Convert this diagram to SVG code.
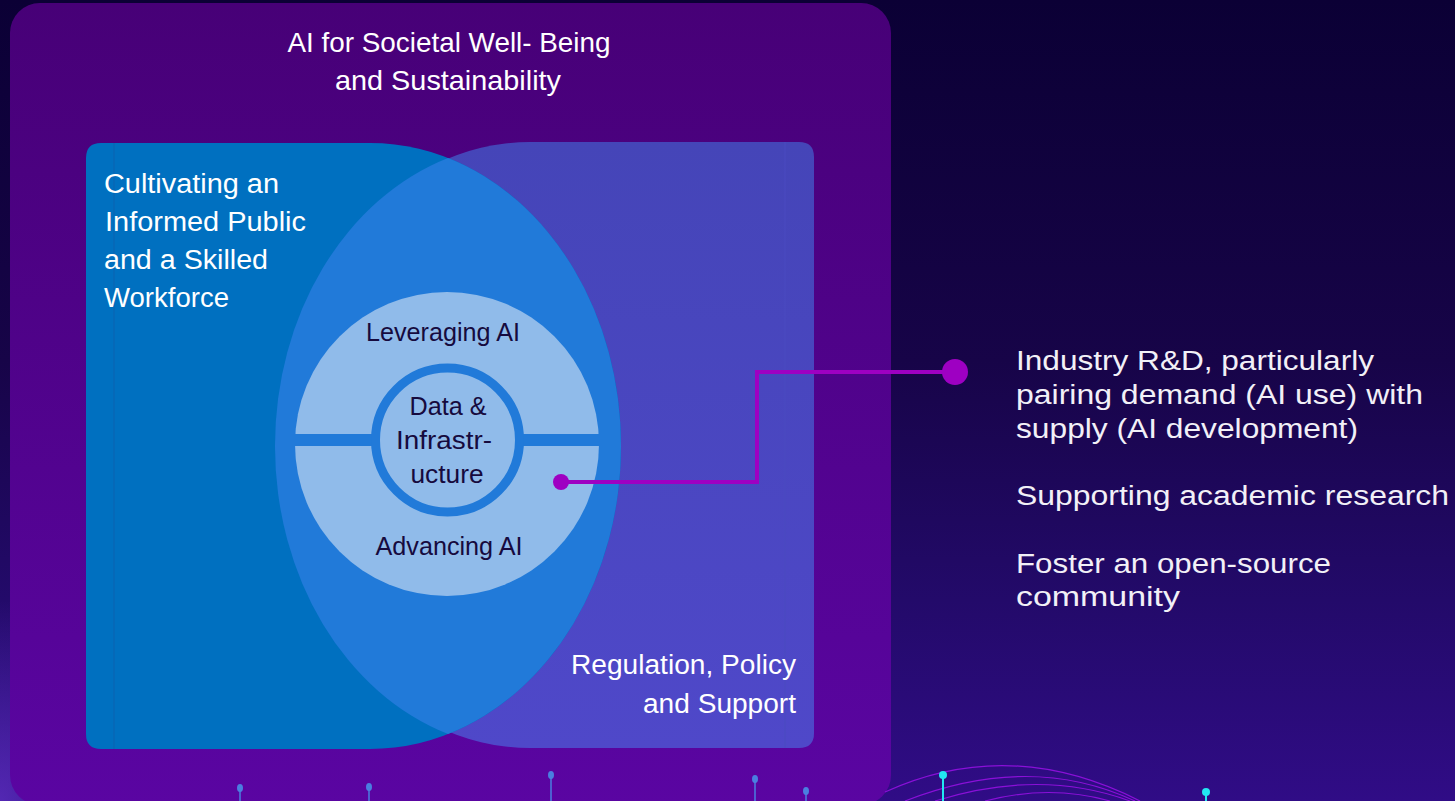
<svg xmlns="http://www.w3.org/2000/svg" width="1455" height="801" viewBox="0 0 1455 801">
  <defs>
    <linearGradient id="bg" x1="0" y1="0" x2="0" y2="1">
      <stop offset="0" stop-color="#0b0035"/>
      <stop offset="0.45" stop-color="#170448"/>
      <stop offset="0.75" stop-color="#230a6a"/>
      <stop offset="1" stop-color="#300c86"/>
    </linearGradient>
    <linearGradient id="panel" x1="0" y1="0" x2="0" y2="1">
      <stop offset="0" stop-color="#470077"/>
      <stop offset="1" stop-color="#5a05a2"/>
    </linearGradient>
    <linearGradient id="rightShape" x1="0" y1="0" x2="0" y2="1">
      <stop offset="0" stop-color="#4545b8"/>
      <stop offset="1" stop-color="#4f48c9"/>
    </linearGradient>
    <radialGradient id="glow" cx="0" cy="1" r="1">
      <stop offset="0" stop-color="#6a3ad0" stop-opacity="0.6"/>
      <stop offset="1" stop-color="#6a3ad0" stop-opacity="0"/>
    </radialGradient>
    <style>
      .t { font-family: "Liberation Sans", "Noto Sans", Arial, sans-serif; fill: #ffffff; }
      .dark { font-family: "Liberation Sans", "Noto Sans", Arial, sans-serif; fill: #160a3e; }
      .rt { font-family: "Liberation Sans", "Noto Sans", Arial, sans-serif; fill: #f2f0f7; font-size: 27px; }
      .conn { stroke: #9e00c2; stroke-width: 4; fill: none; }
      .pinB { stroke: #4a7fe0; stroke-width: 1.5; }
      .pinC { stroke: #22e6f2; stroke-width: 2; }
      .arc { stroke: #8a10d8; stroke-width: 1.2; fill: none; }
    </style>
  </defs>

  <rect x="0" y="0" width="1455" height="801" fill="url(#bg)"/>
  <rect x="0" y="600" width="120" height="201" fill="url(#glow)"/>

  <g id="panel-societal">
    <rect x="10" y="3" width="881" height="802" rx="30" ry="30" fill="url(#panel)"/>
    <text class="t" font-size="28" text-anchor="middle" x="449" y="52" textLength="323" lengthAdjust="spacingAndGlyphs">AI for Societal Well- Being</text>
    <text class="t" font-size="28" text-anchor="middle" x="448" y="90" textLength="226" lengthAdjust="spacingAndGlyphs">and Sustainability</text>
  </g>

  <g id="shape-regulation">
    <path d="M530 142 L799 142 Q814 142 814 157 L814 733 Q814 748 799 748 L530 748 A251 303 0 0 1 530 142 Z" fill="url(#rightShape)"/>
    <line x1="785" y1="142" x2="785" y2="748" stroke="#4a4ac0" stroke-width="1"/>
    <text class="t" font-size="27" text-anchor="end" x="796" y="674" textLength="225" lengthAdjust="spacingAndGlyphs">Regulation, Policy</text>
    <text class="t" font-size="27" text-anchor="end" x="796" y="713" textLength="153" lengthAdjust="spacingAndGlyphs">and Support</text>
  </g>

  <g id="shape-cultivating">
    <path d="M101 143 L370 143 A251 303 0 0 1 370 749 L101 749 Q86 749 86 734 L86 158 Q86 143 101 143 Z" fill="#0070c0"/>
    <line x1="114" y1="143" x2="114" y2="749" stroke="#0a62b0" stroke-width="1"/>
    <text class="t" font-size="27" x="104" y="193" textLength="175" lengthAdjust="spacingAndGlyphs">Cultivating an</text>
    <text class="t" font-size="27" x="105" y="231" textLength="201" lengthAdjust="spacingAndGlyphs">Informed Public</text>
    <text class="t" font-size="27" x="104" y="269" textLength="164" lengthAdjust="spacingAndGlyphs">and a Skilled</text>
    <text class="t" font-size="27" x="104" y="307" textLength="125" lengthAdjust="spacingAndGlyphs">Workforce</text>
  </g>

  <g id="overlap">
    <path d="M448 158 A251 303 0 0 1 448 734 A251 303 0 0 1 448 158 Z" fill="#217ad9"/>
  </g>

  <g id="node-ai">
    <circle cx="447" cy="444" r="152" fill="#90bbea"/>
    <rect x="295" y="434" width="305" height="12" fill="#217ad9"/>
    <text class="dark" font-size="25" text-anchor="middle" x="443" y="341" textLength="154" lengthAdjust="spacingAndGlyphs">Leveraging AI</text>
    <text class="dark" font-size="25" text-anchor="middle" x="449" y="555" textLength="147" lengthAdjust="spacingAndGlyphs">Advancing AI</text>
  </g>

  <g id="node-data">
    <circle cx="447.5" cy="440" r="72" fill="#90bbea" stroke="#217ad9" stroke-width="9"/>
    <text class="dark" font-size="25" text-anchor="middle" x="448" y="415" textLength="77" lengthAdjust="spacingAndGlyphs">Data &amp;</text>
    <text class="dark" font-size="25" text-anchor="middle" x="444" y="449" textLength="96" lengthAdjust="spacingAndGlyphs">Infrastr-</text>
    <text class="dark" font-size="25" text-anchor="middle" x="447" y="483" textLength="73" lengthAdjust="spacingAndGlyphs">ucture</text>
  </g>

  <g id="connectors">
    <polyline class="conn" points="561,482 757,482 757,372 955,372"/>
    <circle cx="561" cy="482" r="8" fill="#9e00c2"/>
    <circle cx="955" cy="372" r="13" fill="#9e00c2"/>
  </g>

  <g id="node-research">
    <text class="rt" x="1016" y="370" textLength="358" lengthAdjust="spacingAndGlyphs">Industry R&amp;D, particularly</text>
    <text class="rt" x="1016" y="404" textLength="407" lengthAdjust="spacingAndGlyphs">pairing demand (AI use) with</text>
    <text class="rt" x="1016" y="438" textLength="342" lengthAdjust="spacingAndGlyphs">supply (AI development)</text>
    <text class="rt" x="1016" y="505" textLength="433" lengthAdjust="spacingAndGlyphs">Supporting academic research</text>
    <text class="rt" x="1016" y="573" textLength="315" lengthAdjust="spacingAndGlyphs">Foster an open-source</text>
    <text class="rt" x="1016" y="606" textLength="164" lengthAdjust="spacingAndGlyphs">community</text>
  </g>

  <g id="decor">
    <path class="arc" d="M885 792 Q1010 735 1140 801"/>
    <path class="arc" d="M905 801 Q1030 752 1135 801"/>
    <path class="arc" d="M935 801 Q1040 768 1130 801"/>
    <path class="arc" d="M985 801 Q1050 784 1110 801"/>
    <line class="pinB" x1="240" y1="788" x2="240" y2="801"/><ellipse cx="240" cy="788" rx="3" ry="4" fill="#4a7fe0"/>
    <line class="pinB" x1="369" y1="787" x2="369" y2="801"/><ellipse cx="369" cy="787" rx="3" ry="4" fill="#4a7fe0"/>
    <line class="pinB" x1="551" y1="775" x2="551" y2="801"/><ellipse cx="551" cy="775" rx="3" ry="4" fill="#4a7fe0"/>
    <line class="pinB" x1="755" y1="779" x2="755" y2="801"/><ellipse cx="755" cy="779" rx="3" ry="4" fill="#4a7fe0"/>
    <line class="pinB" x1="806" y1="791" x2="806" y2="801"/><ellipse cx="806" cy="791" rx="3" ry="4" fill="#4a7fe0"/>
    <line class="pinC" x1="943" y1="775" x2="943" y2="801"/><circle cx="943" cy="775" r="4" fill="#22e6f2"/>
    <line class="pinC" x1="1206" y1="792" x2="1206" y2="801"/><circle cx="1206" cy="792" r="4" fill="#22e6f2"/>
  </g>
</svg>
